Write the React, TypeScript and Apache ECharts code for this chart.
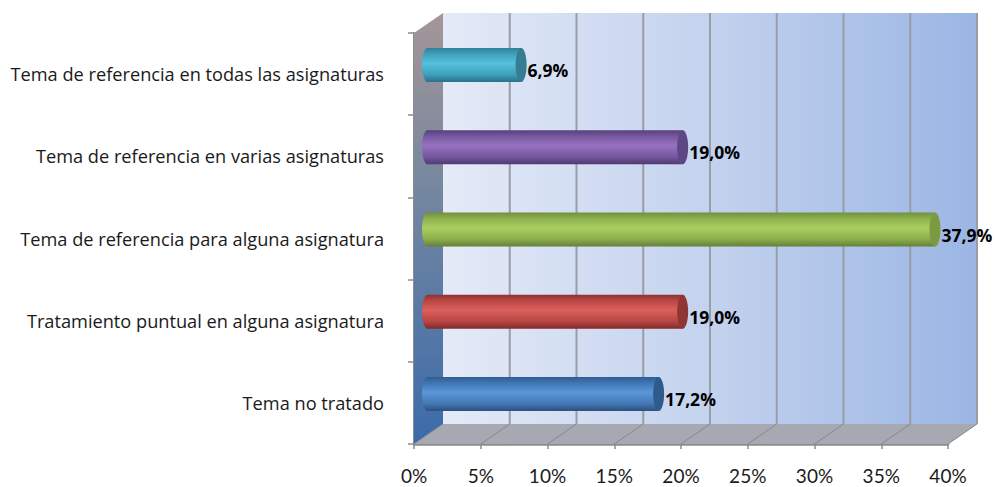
import React, { useEffect, useRef } from "react";
import * as echarts from "echarts";

const categories = [
  "Tema no tratado",
  "Tratamiento puntual en alguna asignatura",
  "Tema de referencia para alguna asignatura",
  "Tema de referencia en varias asignaturas",
  "Tema de referencia en todas las asignaturas",
];
const values = [17.2, 19.0, 37.9, 19.0, 6.9];
const valueLabels = ["17,2%", "19,0%", "37,9%", "19,0%", "6,9%"];
const bodyColors = [
  ["#2f5c90", "#3f76b4", "#5b97d8", "#4479b6", "#2b5080"],
  ["#8f3230", "#b94644", "#dc5f5c", "#b84644", "#822b2a"],
  ["#71903c", "#8fb14e", "#a9cf60", "#8dae4c", "#64803a"],
  ["#57407c", "#7858a0", "#9672c0", "#7656a0", "#4e3a70"],
  ["#2f8098", "#3fa2bc", "#55c0dc", "#3e9fb9", "#2a7086"],
];
const capColors = ["#2f5a8c", "#8f3533", "#7b9a42", "#5e4884", "#357d92"];
const xTicks = [0, 5, 10, 15, 20, 25, 30, 35, 40];

const DX = 29;
const DY = -20;
const FONT = "'Open Sans', sans-serif";

const vGrad = (stops: string[]) =>
  new echarts.graphic.LinearGradient(0, 0, 0, 1, [
    { offset: 0, color: stops[0] },
    { offset: 0.18, color: stops[1] },
    { offset: 0.45, color: stops[2] },
    { offset: 0.78, color: stops[3] },
    { offset: 1, color: stops[4] },
  ]);

export default function App() {
  const ref = useRef<HTMLDivElement>(null);
  useEffect(() => {
    const chart = echarts.init(ref.current!, undefined, { renderer: "svg" });
    chart.setOption({
      animation: false,
      backgroundColor: "#ffffff",
      grid: { left: 414, top: 33, width: 534, height: 411, containLabel: false },
      xAxis: {
        type: "value",
        min: 0,
        max: 40,
        interval: 5,
        splitLine: { show: false },
        axisLine: { show: true, lineStyle: { color: "#8c8c8c", width: 2.5 } },
        axisTick: { show: true, length: 5, lineStyle: { color: "#8c8c8c", width: 1.5 } },
        axisLabel: {
          formatter: "{value}%",
          color: "#1a1a1a",
          fontFamily: "Lato, sans-serif",
          fontSize: 19,
          margin: 22,
        },
      },
      yAxis: {
        type: "category",
        data: categories,
        axisLine: { show: true, lineStyle: { color: "#8c8c8c", width: 2 } },
        axisTick: { show: true, length: 6, alignWithLabel: false, lineStyle: { color: "#8c8c8c", width: 1.5 } },
        axisLabel: {
          color: "#1a1a1a",
          fontFamily: FONT,
          fontSize: 18.2,
          margin: 30,
          padding: [14, 0, 0, 0],
        },
      },
      series: [
        {
          type: "custom",
          coordinateSystem: "cartesian2d",
          silent: true,
          z: 1,
          data: [[0, 0]],
          encode: { x: 0, y: 1 },
          renderItem: (_p: any, api: any) => {
            const y0 = api.coord([0, 0])[1] + api.size([0, 1])[1] / 2;
            const y1 = y0 - 5 * api.size([0, 1])[1];
            const x0 = api.coord([0, 0])[0];
            const x1 = api.coord([40, 0])[0];
            const children: any[] = [
              {
                type: "rect",
                shape: { x: x0 + DX, y: y1 + DY, width: x1 - x0, height: y0 - y1 },
                style: {
                  fill: new echarts.graphic.LinearGradient(0, 0, 1, 0, [
                    { offset: 0, color: "#e4eaf7" },
                    { offset: 0.5, color: "#c3d2ee" },
                    { offset: 1, color: "#9bb6e4" },
                  ]),
                },
              },
              {
                type: "polygon",
                shape: {
                  points: [
                    [x0, y1],
                    [x0 + DX, y1 + DY],
                    [x0 + DX, y0 + DY],
                    [x0, y0],
                  ],
                },
                style: {
                  fill: new echarts.graphic.LinearGradient(0, 0, 0, 1, [
                    { offset: 0, color: "#a59699" },
                    { offset: 0.4, color: "#76879f" },
                    { offset: 1, color: "#3b6bab" },
                  ]),
                },
              },
              {
                type: "polygon",
                shape: {
                  points: [
                    [x0, y0],
                    [x0 + DX, y0 + DY],
                    [x1 + DX, y0 + DY],
                    [x1, y0],
                  ],
                },
                style: { fill: "#a6a9b2" },
              },
            ];
            xTicks.forEach((t) => {
              const x = api.coord([t, 0])[0];
              if (t > 0) {
                children.push({
                  type: "line",
                  shape: { x1: x + DX, y1: y1 + DY, x2: x + DX, y2: y0 + DY },
                  style: { stroke: "#9a9ca6", lineWidth: 2 },
                });
              }
              children.push({
                type: "line",
                shape: { x1: x, y1: y0, x2: x + DX, y2: y0 + DY },
                style: { stroke: "#85888f", lineWidth: 1 },
              });
            });
            return { type: "group", children };
          },
        },
        {
          type: "custom",
          coordinateSystem: "cartesian2d",
          silent: true,
          z: 3,
          data: values.map((v, i) => [v, i]),
          encode: { x: 0, y: 1 },
          renderItem: (p: any, api: any) => {
            const i = p.dataIndex;
            const end = api.coord([api.value(0), api.value(1)]);
            const start = api.coord([0, api.value(1)]);
            const cy = end[1] + DY / 2 + 1;
            const xs = start[0] + DX / 2 - 1;
            const xe = end[0] + DX / 2 + 0.5;
            const h = 34;
            const rx = 5.5;
            return {
              type: "group",
              children: [
                {
                  type: "ellipse",
                  shape: { cx: xs, cy, rx, ry: h / 2 },
                  style: { fill: vGrad(bodyColors[i]) },
                },
                {
                  type: "rect",
                  shape: { x: xs, y: cy - h / 2, width: xe - xs, height: h },
                  style: { fill: vGrad(bodyColors[i]) },
                },
                {
                  type: "ellipse",
                  shape: { cx: xe, cy, rx, ry: h / 2 },
                  style: { fill: capColors[i] },
                },
                {
                  type: "text",
                  x: xe + rx + 1,
                  y: cy + 5,
                  style: {
                    text: valueLabels[i],
                    fill: "#000000",
                    font: `bold 17.5px ${FONT}`,
                    verticalAlign: "middle",
                    align: "left",
                  },
                },
              ],
            };
          },
        },
      ],
    });
    return () => chart.dispose();
  }, []);
  return <div ref={ref} style={{ width: 995, height: 487, position: "absolute", left: 0, top: 0 }} />;
}
